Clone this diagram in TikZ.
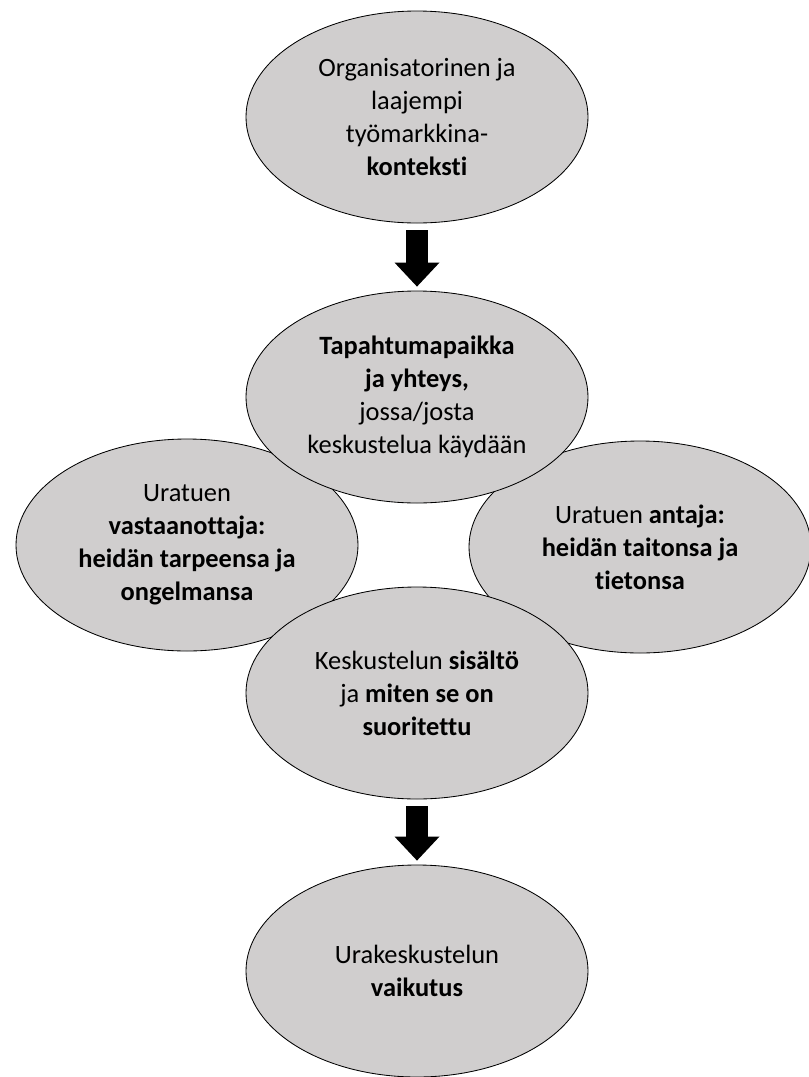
\documentclass[tikz,border=0pt]{standalone}
\usepackage{fontspec}
\setmainfont{Carlito}[Ligatures=NoCommon]
\usetikzlibrary{shapes,arrows.meta,positioning,backgrounds}

\definecolor{ellgrey}{RGB}{208,206,206}

\begin{document}
\begin{tikzpicture}[node distance=7cm,on grid,
every node/.style={font=\fontsize{18.8}{23.5}\selectfont},
topic/.style={ellipse,draw=black,line width=0.6pt,fill=ellgrey,
    minimum width=8.55cm,minimum height=5.3cm,inner sep=0pt,align=center},
bigarrow/.style={line width=0.55cm,
    -{Triangle[width=1.125cm,length=0.6cm,line width=0pt]},
    shorten <=0.175cm,shorten >=0.1cm}]

\useasboundingbox (0,0) rectangle (20.2,-26.925);

\node[topic](org) at (10.425,-2.925) {Organisatorinen ja\\laajempi\\työmarkkina-\\\textbf{konteksti}};
\node[topic](place) [below=of org] {\textbf{Tapahtumapaikka}\\\textbf{ja yhteys,}\\jossa/josta\\keskustelua käydään};
\node[topic](content) [below=7.4cm of place] {Keskustelun \textbf{sisältö}\\ja \textbf{miten se on}\\\textbf{suoritettu}};
\node[topic](impact) [below=6.95cm of content] {Urakeskustelun\\\textbf{vaikutus}};

\begin{scope}[on background layer]
\node[topic](receiver) [below left=3.7cm and 5.75cm of place] {Uratuen\\\textbf{vastaanottaja:}\\\textbf{heidän tarpeensa ja}\\\textbf{ongelmansa}};
\node[topic](giver) [below right=3.75cm and 5.575cm of place] {Uratuen \textbf{antaja:}\\\textbf{heidän taitonsa ja}\\\textbf{tietonsa}};
\end{scope}

\draw[bigarrow] (org) -- (place);
\draw[bigarrow] (content) -- (impact);

\end{tikzpicture}
\end{document}
